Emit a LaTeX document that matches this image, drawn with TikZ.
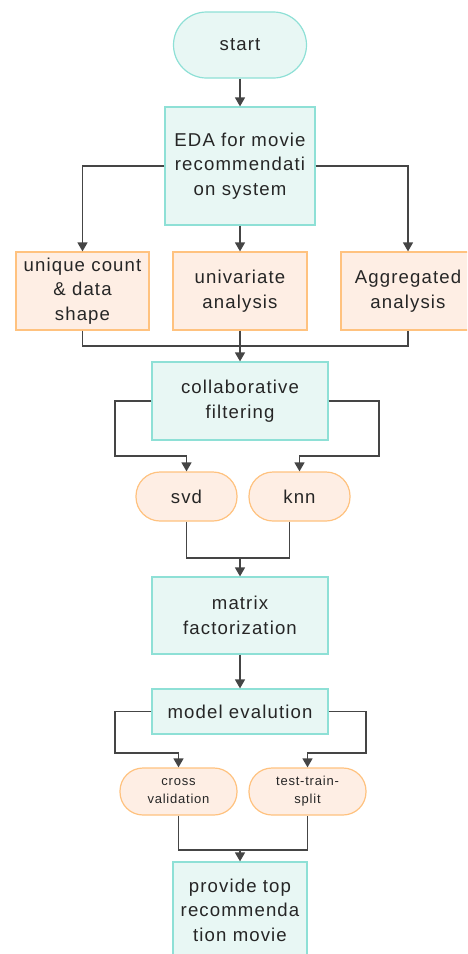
\documentclass[tikz,border=0pt]{standalone}
\usepackage{fontspec}
\setmainfont{Liberation Sans}[LetterSpace=6]
\usetikzlibrary{arrows.meta,calc}
\definecolor{tealfill}{HTML}{E8F7F4}
\definecolor{tealline}{HTML}{8EE0D6}
\definecolor{orfill}{HTML}{FEEEE4}
\definecolor{orline}{HTML}{FFC27F}
\definecolor{wire}{HTML}{454545}
\definecolor{ink}{HTML}{262626}
\begin{document}
\begin{tikzpicture}[x=1pt,y=-1pt,
  base/.style={inner sep=0pt, align=center, text=ink, line width=1.2pt,
    font=\fontsize{18.6}{24.5}\selectfont},
  tealbox/.style={base, draw=tealline, fill=tealfill},
  orbox/.style={base, draw=orline, fill=orfill},
  pill/.style={rounded corners=#1},
  small/.style={font=\fontsize{13}{18}\selectfont},
  flow/.style={draw=wire, line width=1.4pt},
  arr/.style={flow, -{Triangle[width=10pt,length=9pt]}}
]
\useasboundingbox (0,0) rectangle (467,954);
\clip (0,0) rectangle (467,954);

% terminals and process boxes
\node[tealbox, pill=33pt, minimum width=133pt, minimum height=66pt] (start) at (240,45) {start};
\node[tealbox, minimum width=150pt, minimum height=118pt] (eda) at (240,166)
  {EDA for movie\\recommendati\\on system};

\node[orbox, minimum width=133pt, minimum height=78pt] (uc) at (82.5,291)
  {unique count\\\& data\\shape};
\node[orbox, minimum width=134pt, minimum height=78pt] (uni) at (240,291)
  {univariate\\analysis};
\node[orbox, minimum width=134pt, minimum height=78pt] (agg) at (408,291)
  {Aggregated\\analysis};

\node[tealbox, minimum width=176pt, minimum height=78pt] (collab) at (240,401)
  {collaborative\\filtering};

\node[orbox, pill=24pt, minimum width=101pt, minimum height=49pt] (svd) at (186.5,496.5) {svd};
\node[orbox, pill=24pt, minimum width=101pt, minimum height=49pt] (knn) at (299.5,496.5) {knn};

\node[tealbox, minimum width=176pt, minimum height=77pt] (matrix) at (240,615.5)
  {matrix\\factorization};
\node[tealbox, minimum width=176pt, minimum height=45pt] (model) at (240,711.5)
  {model evalution};

\node[orbox, small, pill=23pt, minimum width=117pt, minimum height=47pt] (cross) at (178.5,791.5)
  {cross\\validation};
\node[orbox, small, pill=23pt, minimum width=117pt, minimum height=47pt] (tts) at (307.5,791.5)
  {test-train-\\split};

\node[tealbox, minimum width=134pt, minimum height=96pt] (top) at (240,910)
  {provide top\\recommenda\\tion movie};

% routing points
\coordinate (m1) at (240,346);
\coordinate (cl) at (115,456);
\coordinate (cr) at (379,456);
\coordinate (m2) at (240,558);
\coordinate (ml) at (115,753);
\coordinate (mr) at (366,753);
\coordinate (m3) at (240,850);

% connectors
\draw[arr] (start.south) -- (eda.north);
\draw[arr] (eda.west) -| (uc.north);
\draw[arr] (eda.east) -| (agg.north);
\draw[arr] (eda.south) -- (uni.north);

\draw[flow] (uc.south) |- (m1) -| (agg.south);
\draw[arr] (uni.south) -- (collab.north);

\draw[arr] (collab.west) -| (cl) -| (svd.north);
\draw[arr] (collab.east) -| (cr) -| (knn.north);

\draw[flow] (svd.south) |- (m2);
\draw[flow] ($(knn.south)+(-10,0)$) |- (m2);
\draw[arr] (m2) -- (matrix.north);

\draw[arr] (matrix.south) -- (model.north);

\draw[arr] (model.west) -| (ml) -| (cross.north);
\draw[arr] (model.east) -| (mr) -| (tts.north);

\draw[flow] (cross.south) |- (m3) -| (tts.south);
\draw[arr] (m3) -- (top.north);
\end{tikzpicture}
\end{document}
